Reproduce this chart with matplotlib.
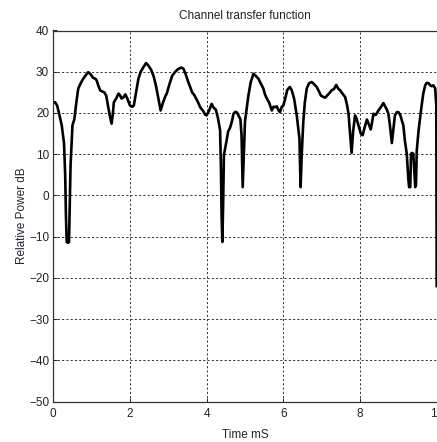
import matplotlib
matplotlib.use("Agg")
import matplotlib.pyplot as plt

plt.rcParams['font.family'] = ['Liberation Sans', 'DejaVu Sans']

# Channel response samples: time (ms) and relative power (dB)
time_ms = [
    0.00, 0.05, 0.10, 0.16, 0.22, 0.28, 0.31, 0.33, 0.35, 0.38, 0.41, 0.43, 0.45, 0.50,
    0.55, 0.60, 0.65, 0.72, 0.78, 0.85, 0.91, 0.97, 1.04, 1.10, 1.13, 1.18, 1.22, 1.28,
    1.33, 1.38, 1.41, 1.47, 1.52, 1.55, 1.58, 1.64, 1.70, 1.74, 1.78, 1.83, 1.88, 1.93,
    2.00, 2.06, 2.10, 2.16, 2.22, 2.28, 2.35, 2.42, 2.48, 2.55, 2.62, 2.68, 2.74, 2.80,
    2.86, 2.92, 2.96, 3.03, 3.10, 3.18, 3.25, 3.33, 3.39, 3.45, 3.52, 3.57, 3.62, 3.68,
    3.74, 3.78, 3.83, 3.90, 3.96, 4.00, 4.06, 4.13, 4.18, 4.24, 4.30, 4.35, 4.37, 4.39,
    4.41, 4.43, 4.45, 4.52, 4.56, 4.61, 4.66, 4.70, 4.75, 4.79, 4.83, 4.88, 4.91, 4.94,
    4.97, 5.00, 5.05, 5.09, 5.15, 5.22, 5.28, 5.35, 5.42, 5.48, 5.52, 5.57, 5.63, 5.70,
    5.74, 5.78, 5.83, 5.87, 5.91, 5.96, 6.00, 6.05, 6.10, 6.13, 6.17, 6.22, 6.28, 6.35,
    6.42, 6.45, 6.48, 6.52, 6.56, 6.61, 6.67, 6.74, 6.80, 6.87, 6.93, 6.98, 7.04, 7.09,
    7.15, 7.20, 7.26, 7.32, 7.38, 7.43, 7.48, 7.55, 7.61, 7.66, 7.70, 7.74, 7.78, 7.82,
    7.87, 7.91, 7.96, 8.02, 8.07, 8.12, 8.18, 8.22, 8.28, 8.31, 8.35, 8.41, 8.48, 8.55,
    8.61, 8.66, 8.70, 8.74, 8.78, 8.83, 8.87, 8.91, 8.96, 9.00, 9.05, 9.09, 9.13, 9.17,
    9.22, 9.26, 9.28, 9.31, 9.33, 9.36, 9.39, 9.42, 9.44, 9.46, 9.48, 9.53, 9.57, 9.61,
    9.65, 9.70, 9.74, 9.79, 9.83, 9.87, 9.91, 9.96, 9.99, 10.00,
]
power_db = [
    22.5, 22.6, 21.8, 19.5, 17.0, 12.6, 5.0, -5.0, -11.3, -11.5, -11.3, -2.0, 7.3, 17.0,
    18.5, 22.5, 25.9, 27.3, 28.3, 29.2, 29.9, 29.4, 28.5, 28.3, 27.9, 26.5, 25.5, 25.2,
    25.0, 24.2, 22.6, 19.5, 17.4, 19.5, 22.6, 23.5, 24.7, 24.3, 23.5, 23.8, 24.5, 23.5,
    21.8, 21.5, 21.8, 25.0, 28.3, 30.0, 31.1, 32.1, 31.5, 30.5, 28.8, 26.5, 23.5, 20.6,
    22.5, 24.0, 24.7, 27.0, 29.0, 30.0, 30.6, 31.0, 30.8, 29.5, 27.5, 26.3, 25.0, 24.3,
    23.2, 22.5, 21.4, 20.6, 19.6, 19.4, 20.5, 22.2, 21.3, 20.8, 18.5, 15.8, 8.0, -5.0,
    -11.3, -2.0, 9.8, 13.3, 15.5, 16.4, 18.0, 19.8, 20.3, 20.1, 19.4, 18.5, 14.6, 2.0,
    10.0, 18.0, 21.5, 24.3, 27.5, 29.5, 29.0, 28.3, 27.0, 25.9, 24.5, 23.5, 22.5, 20.6,
    21.5, 21.4, 21.6, 20.7, 20.2, 21.5, 21.8, 23.5, 25.5, 25.9, 26.3, 25.5, 23.5, 19.4,
    13.8, 2.0, 10.0, 17.8, 22.5, 25.9, 27.2, 27.5, 27.0, 26.3, 25.2, 24.2, 23.9, 23.7,
    24.3, 24.8, 25.5, 25.8, 26.8, 25.9, 25.5, 24.6, 23.9, 22.0, 19.8, 15.0, 10.3, 15.5,
    19.4, 18.6, 17.0, 15.0, 14.6, 16.5, 18.4, 17.5, 16.0, 17.5, 19.8, 19.5, 20.6, 21.5,
    22.4, 21.5, 20.8, 19.8, 17.0, 12.7, 16.0, 19.4, 20.2, 20.2, 19.5, 18.2, 17.0, 13.3,
    10.0, 4.0, 2.0, 2.0, 10.1, 10.3, 10.1, 5.0, 2.0, 2.5, 10.9, 16.0, 19.0, 22.0,
    24.7, 26.7, 27.3, 27.2, 26.7, 26.5, 26.7, 26.0, 21.8, -22.0,
]

x_ticks = [0, 2, 4, 6, 8, 10]
y_ticks = [-50, -40, -30, -20, -10, 0, 10, 20, 30, 40]

fig = plt.figure(figsize=(4.37, 4.42), dpi=100)
ax = fig.add_axes([53.3 / 437, 40.5 / 442, (436.7 - 53.3) / 437, 371 / 442])

ax.plot(time_ms, power_db, color='black', linewidth=1.9, solid_joinstyle='round')

ax.set_xlim(0, 10)
ax.set_ylim(-50, 40)
ax.set_xticks(x_ticks)
ax.set_yticks(y_ticks)
ax.grid(True, color='#333333', linestyle=(0, (2.2, 2.2)), linewidth=0.7)
ax.tick_params(direction='in', length=3, width=0.7, labelsize=8.5, pad=3,
               colors='#222222')
ax.tick_params(axis='x', pad=4.5)
ax.spines['right'].set_visible(False)
for side in ('left', 'top', 'bottom'):
    ax.spines[side].set_color('#333333')
    ax.spines[side].set_linewidth(0.9)

ax.set_title('Channel transfer function', fontsize=8.5, color='#222222', pad=8)
ax.set_xlabel('Time mS', fontsize=8.5, color='#222222', labelpad=7)
ax.set_ylabel('Relative Power dB', fontsize=8.5, color='#222233', labelpad=1)

fig.savefig('out.png', dpi=100)
